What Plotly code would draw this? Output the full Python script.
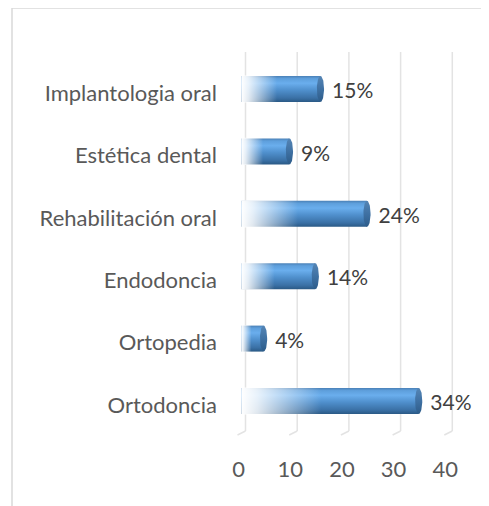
import numpy as np
import plotly.graph_objects as go

# ---- data ----
categories = ["Ortodoncia", "Ortopedia", "Endodoncia", "Rehabilitación oral",
              "Estética dental", "Implantologia oral"]
values = [34, 4, 14, 24, 9, 15]
value_labels = ["34%", "4%", "14%", "24%", "9%", "15%"]
x_ticks = [0, 10, 20, 30, 40]

# ---- layout geometry (pixels, page coordinates; page body has 8px margin) ----
OFF = 8
W, H = 489 - OFF, 506 - OFF
ML, MR, MT, MB = 230 - OFF, 19, 40 - OFF, 56
PW, PH = W - ML - MR, H - MT - MB
X0PX, XSCALE = 238.5 - OFF, 5.17      # px of value 0 on front plane, px per unit
Y0PX, YSCALE = 405.0 - OFF, 62.4      # px of category 0, px per category
xr = [(ML - X0PX) / XSCALE, (W - MR - X0PX) / XSCALE]
yr = [(Y0PX - (H - MB)) / YSCALE, (Y0PX - MT) / YSCALE]

def ux(px):  # pixel offset -> x units
    return px / XSCALE

def uy(px):  # pixel offset -> y units
    return px / YSCALE

fig = go.Figure()

body_scale = [[0.0, "#2a5985"], [0.15, "#3a70a5"], [0.45, "#4f8fcc"],
              [0.72, "#6aaeed"], [0.9, "#5e9fdc"], [1.0, "#4a80b6"]]
cap_scale = [[0.0, "#2d5c8a"], [0.5, "#3f71a3"], [1.0, "#5585b5"]]
fade_scale = [[0.0, "rgba(255,255,255,1)"], [0.2, "rgba(255,255,255,0.85)"],
              [1.0, "rgba(255,255,255,0)"]]

half = uy(13)
rx = ux(3.6)
for i, v in enumerate(values):
    cy = i + uy(4)
    x_start = ux(3)
    x_end = v + ux(4.4)
    # cylinder body
    fig.add_trace(go.Scatter(
        x=[x_start, x_end, x_end, x_start, x_start],
        y=[cy - half, cy - half, cy + half, cy + half, cy - half],
        mode="lines", line=dict(width=0), fill="toself",
        fillgradient=dict(type="vertical", colorscale=body_scale),
        hoverinfo="skip", showlegend=False))
    # white fade on the left part
    fig.add_trace(go.Scatter(
        x=[x_start - 0.01, x_end, x_end, x_start - 0.01, x_start - 0.01],
        y=[cy - half - 0.01, cy - half - 0.01, cy + half + 0.01, cy + half + 0.01, cy - half - 0.01],
        mode="lines", line=dict(width=0), fill="toself",
        fillgradient=dict(type="horizontal", colorscale=fade_scale,
                          start=x_start, stop=x_start + 0.45 * (x_end - x_start)),
        hoverinfo="skip", showlegend=False))
    # end cap
    t = np.linspace(0, 2 * np.pi, 60)
    fig.add_trace(go.Scatter(
        x=x_end + rx * np.cos(t), y=cy + half * np.sin(t),
        mode="lines", line=dict(width=0), fill="toself",
        fillgradient=dict(type="vertical", colorscale=cap_scale),
        hoverinfo="skip", showlegend=False))

# data labels
fig.add_trace(go.Scatter(
    x=[v + ux(16) for v in values], y=list(range(len(values))),
    mode="text", text=value_labels, textposition="middle right",
    textfont=dict(family="Lato", size=21, color="#404040"),
    cliponaxis=False, hoverinfo="skip", showlegend=False))

# 3-D style gridlines (back wall + floor)
shapes = []
gy_top = (Y0PX - (52 - OFF)) / YSCALE
gy_floor = (Y0PX - (431 - OFF)) / YSCALE
gy_front = (Y0PX - (435 - OFF)) / YSCALE
for t_ in x_ticks:
    shapes.append(dict(type="line", xref="x", yref="y", layer="below",
                       x0=t_ + ux(7), x1=t_ + ux(7), y0=gy_floor, y1=gy_top,
                       line=dict(color="#e3e3e3", width=1.5)))
    shapes.append(dict(type="line", xref="x", yref="y", layer="below",
                       x0=t_ + ux(7), x1=t_ - ux(1), y0=gy_floor, y1=gy_front,
                       line=dict(color="#e3e3e3", width=1.5)))

# chart border (top and left)
def px_paper_x(px):
    return (px - OFF - ML) / PW

def py_paper_y(py):
    return (H - MB - (py - OFF)) / PH

shapes.append(dict(type="line", xref="paper", yref="paper",
                   x0=px_paper_x(12), x1=px_paper_x(492), y0=py_paper_y(8), y1=py_paper_y(8),
                   line=dict(color="#d9d9d9", width=1.5)))
shapes.append(dict(type="line", xref="paper", yref="paper",
                   x0=px_paper_x(12), x1=px_paper_x(12), y0=py_paper_y(8), y1=py_paper_y(510),
                   line=dict(color="#d9d9d9", width=1.5)))

fig.update_layout(
    width=W, height=H,
    margin=dict(l=ML, r=MR, t=MT, b=MB, pad=0),
    paper_bgcolor="white", plot_bgcolor="white",
    shapes=shapes,
    xaxis=dict(range=xr, tickvals=x_ticks, ticktext=[str(t_) for t_ in x_ticks],
               showgrid=False, zeroline=False, showline=False, ticks="",
               ticklabelstandoff=4, automargin=False,
               tickfont=dict(family="Lato", size=22, color="#595959")),
    yaxis=dict(range=yr, tickvals=list(range(len(categories))), ticktext=categories,
               showgrid=False, zeroline=False, showline=False, ticks="",
               ticklabelstandoff=12, automargin=False,
               tickfont=dict(family="Lato", size=22, color="#595959")),
)

fig.write_html("out.html")
